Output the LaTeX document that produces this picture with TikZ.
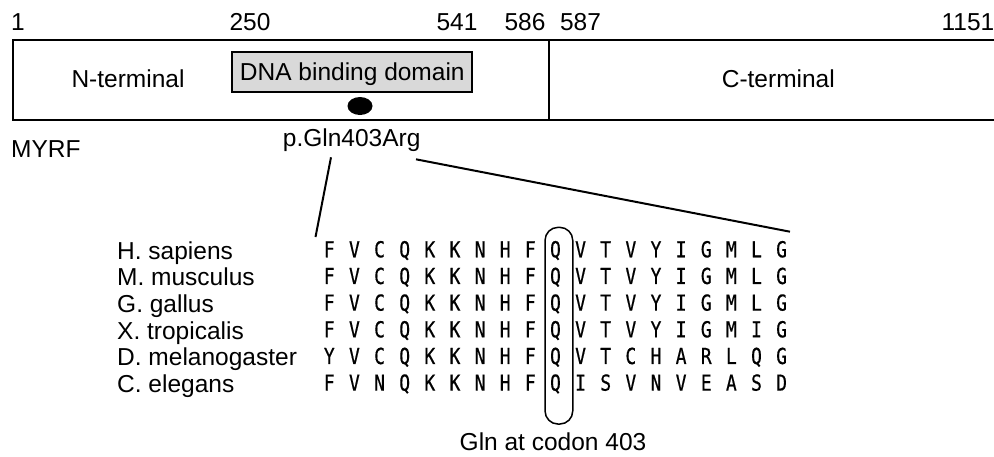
\documentclass[tikz,border=0pt]{standalone}
\usepackage{fontspec}
\setmainfont{Liberation Sans}
\newfontfamily\alnfont[FakeBold=0.6]{DejaVu Sans Mono}
\usetikzlibrary{positioning}

\tikzset{
  lbl/.style={inner sep=0pt, font=\fontsize{24.5}{24.5}\selectfont},
  aa/.style={inner sep=0pt, anchor=base, font=\alnfont\fontsize{20}{20}\selectfont},
  domainpart/.style={draw=black, line width=2pt, inner sep=0pt},
  link/.style={draw=black, line width=2pt},
}
\newcommand{\residue}[1]{\scalebox{0.9}[1.1]{#1}}

\begin{document}
\begin{tikzpicture}[x=1pt,y=-1pt]
  \useasboundingbox (0,0) rectangle (994,456);

  % protein bar: N-terminal and C-terminal halves
  \node[domainpart, anchor=north west, minimum width=535.4pt, minimum height=80pt] (nterm) at (12.3,39) {};
  \node[domainpart, anchor=north west, minimum width=448.3pt, minimum height=80pt] (cterm) at (547.7,39) {};
  \node[lbl, anchor=base] (ntxt) at (128,87) {N-terminal};
  \node[lbl, anchor=base] (ctxt) at (778.3,87.3) {C-terminal};

  % DNA binding domain
  \node[domainpart, fill=gray!30, line width=1.8pt, minimum width=240pt, minimum height=40pt] (dbd) at (352.3,72.3) {};
  \node[lbl, anchor=base] (dbdtxt) at (352.3,80) {DNA binding domain};

  % variant position
  \fill[black] (360,106) ellipse (12.5 and 9);
  \node[lbl, anchor=base] (mut) at (351.7,146.7) {p.Gln403Arg};

  % residue numbers
  \node[lbl, anchor=base] (n1) at (18,30.7) {1};
  \node[lbl, anchor=base] (n250) at (250,30.7) {250};
  \node[lbl, anchor=base] (n541) at (457,30.7) {541};
  \node[lbl, anchor=base] (n586) at (525,30.7) {586};
  \node[lbl, anchor=base] (n587) at (580.5,30.7) {587};
  \node[lbl, anchor=base] (n1151) at (968,30.7) {1151};

  \node[lbl, anchor=base west] (gene) at (11,157) {MYRF};

  % species names
  \foreach \sp [count=\r] in {H. sapiens, M. musculus, G. gallus, X. tropicalis, D. melanogaster, C. elegans}
    \node[lbl, anchor=base west] (sp-\r) at (117,{259.3+(\r-1)*26.67}) {\sp};

  % alignment
  \foreach \seq [count=\r] in {
      {F,V,C,Q,K,K,N,H,F,Q,V,T,V,Y,I,G,M,L,G},
      {F,V,C,Q,K,K,N,H,F,Q,V,T,V,Y,I,G,M,L,G},
      {F,V,C,Q,K,K,N,H,F,Q,V,T,V,Y,I,G,M,L,G},
      {F,V,C,Q,K,K,N,H,F,Q,V,T,V,Y,I,G,M,I,G},
      {Y,V,C,Q,K,K,N,H,F,Q,V,T,C,H,A,R,L,Q,G},
      {F,V,N,Q,K,K,N,H,F,Q,I,S,V,N,V,E,A,S,D}}
    \foreach \a [count=\c] in \seq
      \node[aa] (aa-\r-\c) at ({329.3+(\c-1)*25.13},{257.3+(\r-1)*26.67}) {\residue{\a}};

  % conserved glutamine column
  \node[draw=black, line width=1.5pt, rounded corners=13pt, minimum width=27.7pt, minimum height=196.7pt, inner sep=0pt] (qbox) at (558.9,325.7) {};
  \node[lbl, anchor=base] (qtxt) at (553,450) {Gln at codon 403};

  % zoom lines from the variant to the alignment
  \coordinate (mutL) at (331,157.3);
  \coordinate (mutR) at (416,159.3);
  \coordinate (alnL) at (315.5,237);
  \coordinate (alnR) at (790,231.7);
  \draw[link] (mutL) -- (alnL);
  \draw[link] (mutR) -- (alnR);
\end{tikzpicture}
\end{document}
